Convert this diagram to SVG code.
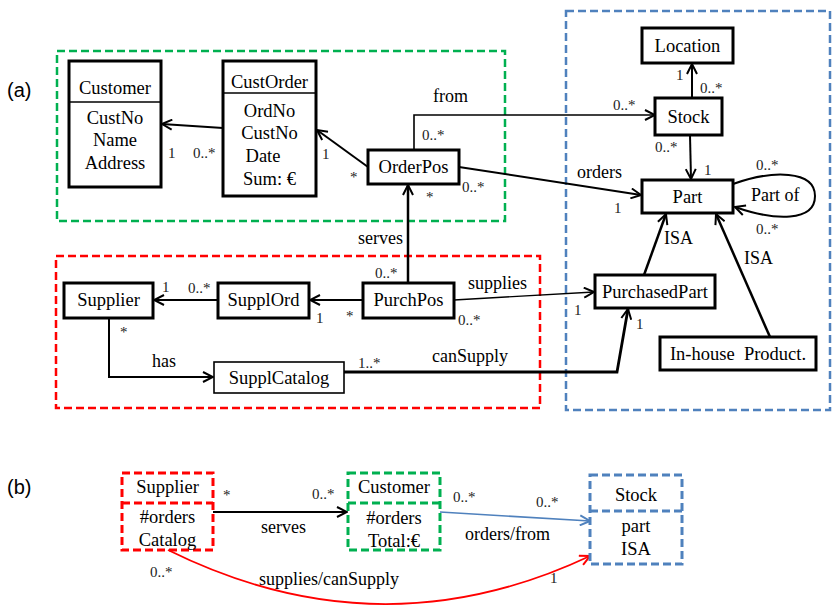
<svg xmlns="http://www.w3.org/2000/svg" width="837" height="613" viewBox="0 0 837 613" font-family="'Liberation Serif', 'Times New Roman', serif">
<defs>
<style>
text{font-family:'Liberation Serif','Times New Roman',serif;fill:#000;}
.t{font-size:18.5px;text-anchor:middle;}
.lb{font-size:18px;}
.m{font-size:15px;fill:#222;}
text.sec{font-family:'Liberation Sans',Arial,sans-serif;font-size:20px;}
.box{fill:#fff;stroke:#000;stroke-width:3;}
.thin{fill:#fff;stroke:#000;stroke-width:1.6;}
.grp{fill:none;stroke-width:2.5;stroke-dasharray:8 4;}
.g{stroke:#00B050;}
.r{stroke:#FF0000;}
.b{stroke:#4F81BD;}
.c{fill:none;stroke:#000;stroke-width:2;}
.cb{fill:none;stroke-width:3;stroke-dasharray:8 4;}
</style>
<marker id="ah" viewBox="0 0 12 12" refX="11" refY="6" markerWidth="12" markerHeight="12" markerUnits="userSpaceOnUse" orient="auto">
<path d="M1,1 L11,6 L1,11" fill="none" stroke="#000" stroke-width="2"/>
</marker>
<marker id="ahb" viewBox="0 0 12 12" refX="11" refY="6" markerWidth="12" markerHeight="12" markerUnits="userSpaceOnUse" orient="auto">
<path d="M1,1 L11,6 L1,11" fill="none" stroke="#4F81BD" stroke-width="2"/>
</marker>
<marker id="ahr" viewBox="0 0 12 12" refX="11" refY="6" markerWidth="12" markerHeight="12" markerUnits="userSpaceOnUse" orient="auto">
<path d="M1,1 L11,6 L1,11" fill="none" stroke="#FF0000" stroke-width="2"/>
</marker>
</defs>
<rect width="837" height="613" fill="#fff"/>

<text class="sec" x="7" y="97">(a)</text>
<text class="sec" x="7" y="494">(b)</text>

<!-- group frames -->
<rect class="grp g" x="57" y="51" width="448" height="170"/>
<rect class="grp r" x="56" y="256" width="484" height="152"/>
<rect class="grp b" x="566" y="11" width="264" height="399"/>

<!-- connectors -->
<g id="connectors">
<line class="c" x1="223" y1="128" x2="162" y2="124" marker-end="url(#ah)"/>
<line class="c" x1="368" y1="167" x2="317" y2="130" marker-end="url(#ah)"/>
<polyline class="c" style="stroke-width:1.6" points="414,150 414,115 655,115" marker-end="url(#ah)"/>
<line class="c" x1="459" y1="167" x2="641" y2="195" marker-end="url(#ah)"/>
<line class="c" x1="692" y1="98" x2="692" y2="64" marker-end="url(#ah)"/>
<line class="c" x1="690" y1="135" x2="691" y2="179" marker-end="url(#ah)"/>
<path class="c" d="M733,184 C772,170 815,170 815,196 C815,222 775,221 735,207" marker-end="url(#ah)"/>
<line class="c" style="stroke-width:2.5" x1="644" y1="275" x2="666" y2="214" marker-end="url(#ah)"/>
<line class="c" style="stroke-width:2.5" x1="770" y1="337" x2="716" y2="214" marker-end="url(#ah)"/>
<line class="c" x1="218" y1="300" x2="154" y2="300" marker-end="url(#ah)"/>
<line class="c" x1="363" y1="300" x2="310" y2="300" marker-end="url(#ah)"/>
<line class="c" style="stroke-width:2.5" x1="408" y1="283" x2="408" y2="185" marker-end="url(#ah)"/>
<line class="c" style="stroke-width:1.4" x1="454" y1="300" x2="594" y2="292" marker-end="url(#ah)"/>
<polyline class="c" points="109,318 109,377 213,377" marker-end="url(#ah)"/>
<polyline class="c" style="stroke-width:2.8" points="344,372 617,372 628,309" marker-end="url(#ah)"/>
<!-- (b) -->
<line class="c" x1="213" y1="512" x2="347" y2="512" marker-end="url(#ah)"/>
<line class="c" style="stroke:#4F81BD;stroke-width:1.6" x1="440" y1="512" x2="590" y2="521" marker-end="url(#ahb)"/>
<path class="c" style="stroke:#FF0000;stroke-width:1.8" d="M168,550 Q380,655 590,556" marker-end="url(#ahr)"/>
</g>

<!-- connector labels -->
<g id="labels">
<text class="m" x="168" y="158">1</text>
<text class="m" x="193" y="158">0..*</text>
<text class="m" x="322" y="159">1</text>
<text class="m" x="350" y="182">*</text>
<text class="lb" x="433" y="102">from</text>
<text class="m" x="422" y="140">0..*</text>
<text class="m" x="613" y="110">0..*</text>
<text class="lb" x="577" y="178">orders</text>
<text class="m" x="462" y="192">0..*</text>
<text class="m" x="426" y="202">*</text>
<text class="m" x="614" y="213">1</text>
<text class="m" x="676" y="80">1</text>
<text class="m" x="700" y="93">0..*</text>
<text class="m" x="655" y="152">0..*</text>
<text class="m" x="704" y="175">1</text>
<text class="m" x="756" y="170">0..*</text>
<text class="lb" x="751" y="201">Part of</text>
<text class="m" x="756" y="234">0..*</text>
<text class="lb" x="664" y="244">ISA</text>
<text class="lb" x="744" y="264">ISA</text>
<text class="lb" x="358" y="244">serves</text>
<text class="m" x="375" y="278">0..*</text>
<text class="lb" x="468" y="289">supplies</text>
<text class="m" x="458" y="325">0..*</text>
<text class="m" x="574" y="315">1</text>
<text class="m" x="162" y="292">1</text>
<text class="m" x="188" y="293">0..*</text>
<text class="m" x="316" y="323">1</text>
<text class="m" x="346" y="321">*</text>
<text class="m" x="120" y="337">*</text>
<text class="lb" x="152" y="367">has</text>
<text class="m" x="358" y="368">1..*</text>
<text class="lb" x="432" y="362">canSupply</text>
<text class="m" x="636" y="329">1</text>
<!-- (b) -->
<text class="m" x="223" y="500">*</text>
<text class="m" x="312" y="499">0..*</text>
<text class="lb" x="261" y="533">serves</text>
<text class="m" x="453" y="502">0..*</text>
<text class="m" x="536" y="507">0..*</text>
<text class="lb" x="465" y="540">orders/from</text>
<text class="m" x="150" y="577">0..*</text>
<text class="lb" x="259" y="585">supplies/canSupply</text>
<text class="m" x="550" y="583">1</text>
</g>

<!-- nodes (a) -->
<g id="customer">
<rect class="box" x="69" y="61" width="92" height="126"/>
<line x1="69" y1="102" x2="161" y2="102" stroke="#000" stroke-width="1.5"/>
<text class="t" x="115" y="94">Customer</text>
<text class="t" x="115" y="124">CustNo</text>
<text class="t" x="115" y="146">Name</text>
<text class="t" x="115" y="169">Address</text>
</g>
<g id="custorder">
<rect class="box" x="223" y="61" width="93" height="135"/>
<line x1="223" y1="93" x2="316" y2="93" stroke="#000" stroke-width="1.5"/>
<text class="t" x="269.5" y="88">CustOrder</text>
<text class="t" x="269.5" y="117">OrdNo</text>
<text class="t" x="269.5" y="139">CustNo</text>
<text class="t" x="263" y="162">Date</text>
<text class="t" x="269.5" y="185">Sum: €</text>
</g>
<g id="orderpos">
<rect class="box" x="368" y="150" width="91" height="34"/>
<text class="t" x="413.5" y="173">OrderPos</text>
</g>
<g id="location">
<rect class="box" x="642" y="28" width="91" height="35"/>
<text class="t" x="687.5" y="52">Location</text>
</g>
<g id="stock">
<rect class="box" x="655" y="98" width="67" height="37"/>
<text class="t" x="688.5" y="123">Stock</text>
</g>
<g id="part">
<rect class="box" x="642" y="180" width="91" height="33"/>
<text class="t" x="687.5" y="203">Part</text>
</g>
<g id="purchasedpart">
<rect class="box" x="595" y="275" width="120" height="33"/>
<text class="t" x="655" y="298">PurchasedPart</text>
</g>
<g id="inhouse">
<rect class="box" x="660" y="337" width="156" height="33"/>
<text class="t" x="738" y="360" xml:space="preserve">In-house  Product.</text>
</g>
<g id="supplier">
<rect class="box" x="64" y="283" width="89" height="35"/>
<text class="t" x="108.5" y="306">Supplier</text>
</g>
<g id="supplord">
<rect class="box" x="218" y="283" width="91" height="35"/>
<text class="t" x="263.5" y="306">SupplOrd</text>
</g>
<g id="purchpos">
<rect class="box" x="363" y="283" width="91" height="35"/>
<text class="t" x="408.5" y="306">PurchPos</text>
</g>
<g id="supplcatalog">
<rect class="thin" x="214" y="362" width="130" height="31"/>
<text class="t" x="279" y="384">SupplCatalog</text>
</g>

<!-- nodes (b) -->
<g id="b-supplier">
<rect class="cb r" x="122" y="473" width="91" height="77"/>
<line class="cb r" x1="122" y1="503" x2="213" y2="503"/>
<text class="t" x="167.5" y="493">Supplier</text>
<text class="t" x="167.5" y="523">#orders</text>
<text class="t" x="167.5" y="546">Catalog</text>
</g>
<g id="b-customer">
<rect class="cb g" x="348" y="473" width="92" height="77"/>
<line class="cb g" x1="348" y1="503" x2="440" y2="503"/>
<text class="t" x="394" y="493">Customer</text>
<text class="t" x="394" y="524">#orders</text>
<text class="t" x="394" y="547">Total:€</text>
</g>
<g id="b-stock">
<rect class="cb b" x="590" y="475" width="92" height="89"/>
<line class="cb b" x1="590" y1="511" x2="682" y2="511"/>
<text class="t" x="636" y="501">Stock</text>
<text class="t" x="636" y="532">part</text>
<text class="t" x="636" y="555">ISA</text>
</g>
</svg>
